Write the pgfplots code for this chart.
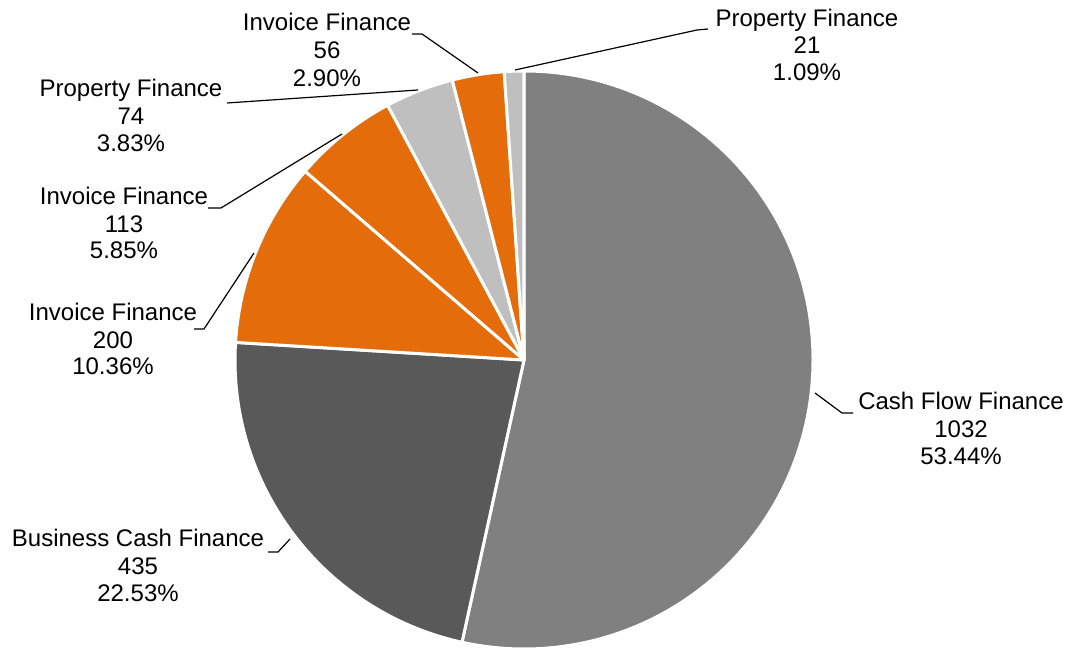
\documentclass[border=0pt]{standalone}
\usepackage{pgfplots}
\pgfplotsset{compat=1.18}
\usepackage{fontspec}
\setmainfont{Liberation Sans}

\definecolor{cfgray}{HTML}{808080}
\definecolor{bcgray}{HTML}{595959}
\definecolor{iforange}{HTML}{E46C0A}
\definecolor{pflight}{HTML}{BFBFBF}

\newcommand{\lbl}{\fontsize{12}{14}\selectfont}

\begin{document}
\begin{tikzpicture}
\begin{axis}[
  x=0.5pt, y=0.5pt,
  xmin=0, xmax=1066,
  ymin=0, ymax=651,
  y dir=reverse,
  hide axis,
  clip=false,
]
% slices, clockwise from 12 o'clock (total 1931)
\pgfplotsextra{
  \foreach \v/\c [remember=\b as \a (initially 90)] in
    {1032/cfgray, 435/bcgray, 200/iforange, 113/iforange, 74/pflight, 56/iforange, 21/pflight} {
    \pgfmathsetmacro\b{\a-\v/1931*360}
    \filldraw[fill=\c, draw=white, line width=1.5pt, line join=round]
      (axis cs:524,360) -- (axis cs:{524+289*cos(\a)},{360-289*sin(\a)})
      arc[start angle=\a, end angle=\b, radius=144.5pt] -- cycle;
  }
}
% leader lines
\draw[black, line width=0.6pt] (axis cs:515,70) -- (axis cs:697,30) -- (axis cs:708,29);
\draw[black, line width=0.6pt] (axis cs:412,34) -- (axis cs:422,34) -- (axis cs:478,73);
\draw[black, line width=0.6pt] (axis cs:227,103) -- (axis cs:418,90);
\draw[black, line width=0.6pt] (axis cs:208,208) -- (axis cs:221,208) -- (axis cs:342,134);
\draw[black, line width=0.6pt] (axis cs:194,329) -- (axis cs:204,329) -- (axis cs:254,253);
\draw[black, line width=0.6pt] (axis cs:815,393) -- (axis cs:842,413) -- (axis cs:853,413);
\draw[black, line width=0.6pt] (axis cs:268,552) -- (axis cs:278,552) -- (axis cs:290,539);
% labels
\begin{scope}[every node/.style={anchor=base, font=\lbl, inner sep=0pt}]
\node at (axis cs:807,27) {Property Finance};
\node at (axis cs:807,54) {21};
\node at (axis cs:807,81) {1.09\%};
\node at (axis cs:327,31) {Invoice Finance};
\node at (axis cs:327,59) {56};
\node at (axis cs:327,87) {2.90\%};
\node at (axis cs:131,97) {Property Finance};
\node at (axis cs:131,125) {74};
\node at (axis cs:131,152) {3.83\%};
\node at (axis cs:124,205) {Invoice Finance};
\node at (axis cs:124,233) {113};
\node at (axis cs:124,259) {5.85\%};
\node at (axis cs:113,321) {Invoice Finance};
\node at (axis cs:113,349) {200};
\node at (axis cs:113,375) {10.36\%};
\node at (axis cs:961,410) {Cash Flow Finance};
\node at (axis cs:961,438) {1032};
\node at (axis cs:961,465) {53.44\%};
\node at (axis cs:138,547) {Business Cash Finance};
\node at (axis cs:138,575) {435};
\node at (axis cs:138,602) {22.53\%};
\end{scope}
\end{axis}
\pgfresetboundingbox
\path[use as bounding box] (current axis.south west) rectangle (current axis.north east);
\end{tikzpicture}
\end{document}
